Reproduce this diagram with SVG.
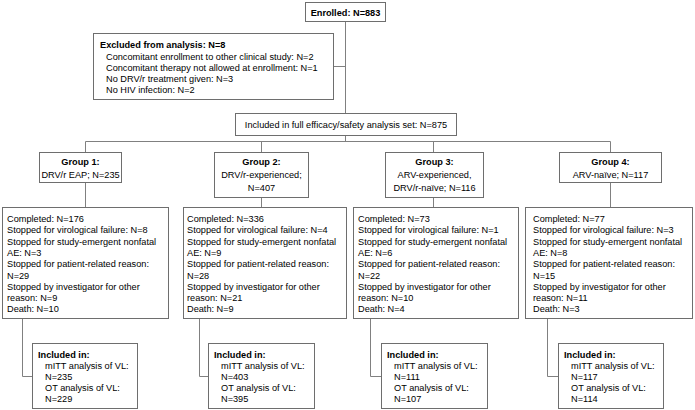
<svg xmlns="http://www.w3.org/2000/svg" width="695" height="410" viewBox="0 0 695 410">
<style>
text{font-family:"Liberation Sans",Arial,sans-serif;font-size:9.2px;fill:#000}
.b{font-weight:bold}
.c{text-anchor:middle}
rect{fill:#fff;stroke:#6e6e6e;stroke-width:1}
.ln{fill:none;stroke:#808080;stroke-width:1}
</style>
<rect x="0" y="0" width="695" height="410" style="fill:#fff;stroke:none"/>
<g id="connectors">
<path class="ln" d="M345.5 21V113"/>
<path class="ln" d="M333.5 66.5H345.5"/>
<path class="ln" d="M345.5 135V141.5"/>
<path class="ln" d="M85.5 152V141.5H610.5V152"/>
<path class="ln" d="M261.5 141.5V152"/>
<path class="ln" d="M433.5 141.5V152"/>
<path class="ln" d="M85.5 182V207"/>
<path class="ln" d="M261.5 197V207"/>
<path class="ln" d="M433.5 197V207"/>
<path class="ln" d="M610.5 182V207"/>
<path class="ln" d="M22.5 318V376.5H32.5"/>
<path class="ln" d="M199.5 318V376.5H208.5"/>
<path class="ln" d="M370.5 318V376.5H381.5"/>
<path class="ln" d="M547.5 318V376.5H558.5"/>
</g>
<g id="enrolled">
<rect x="305.5" y="2.5" width="80" height="19"/>
<text class="b c" x="345.5" y="15.5">Enrolled: N=883</text>
</g>
<g id="excluded">
<rect x="93.5" y="33.5" width="240" height="66"/>
<text class="b" x="100" y="48">Excluded from analysis: N=8</text>
<text x="106" y="60">Concomitant enrollment to other clinical study: N=2</text>
<text x="106" y="71">Concomitant therapy not allowed at enrollment: N=1</text>
<text x="106" y="82">No DRV/r treatment given: N=3</text>
<text x="106" y="93">No HIV infection: N=2</text>
</g>
<g id="included">
<rect x="235.5" y="113.5" width="221" height="22"/>
<text class="c" x="346" y="127.5">Included in full efficacy/safety analysis set: N=875</text>
</g>
<g id="group1">
<rect x="39.5" y="152.5" width="82" height="30"/>
<text class="b c" x="80.5" y="165">Group 1:</text>
<text class="c" x="80.5" y="178">DRV/r EAP; N=235</text>
</g>
<g id="group2">
<rect x="214.5" y="152.5" width="94" height="45"/>
<text class="b c" x="261.5" y="165">Group 2:</text>
<text class="c" x="261.5" y="178">DRV/r-experienced;</text>
<text class="c" x="261.5" y="191">N=407</text>
</g>
<g id="group3">
<rect x="385.5" y="152.5" width="98" height="45"/>
<text class="b c" x="434.5" y="165">Group 3:</text>
<text class="c" x="434.5" y="178">ARV-experienced,</text>
<text class="c" x="434.5" y="191">DRV/r-naïve; N=116</text>
</g>
<g id="group4">
<rect x="559.5" y="152.5" width="102" height="30"/>
<text class="b c" x="610.5" y="165">Group 4:</text>
<text class="c" x="610.5" y="178">ARV-naïve; N=117</text>
</g>
<g id="outcome1">
<rect x="2.5" y="207.5" width="166" height="111"/>
<text x="7" y="222">Completed: N=176</text>
<text x="7" y="233.3">Stopped for virological failure: N=8</text>
<text x="7" y="244.6">Stopped for study-emergent nonfatal</text>
<text x="7" y="255.9">AE: N=3</text>
<text x="7" y="267.2">Stopped for patient-related reason:</text>
<text x="7" y="278.5">N=29</text>
<text x="7" y="289.8">Stopped by investigator for other</text>
<text x="7" y="301.1">reason: N=9</text>
<text x="7" y="312.4">Death: N=10</text>
</g>
<g id="outcome2">
<rect x="183.5" y="207.5" width="163" height="111"/>
<text x="187" y="222">Completed: N=336</text>
<text x="187" y="233.3">Stopped for virological failure: N=4</text>
<text x="187" y="244.6">Stopped for study-emergent nonfatal</text>
<text x="187" y="255.9">AE: N=9</text>
<text x="187" y="267.2">Stopped for patient-related reason:</text>
<text x="187" y="278.5">N=28</text>
<text x="187" y="289.8">Stopped by investigator for other</text>
<text x="187" y="301.1">reason: N=21</text>
<text x="187" y="312.4">Death: N=9</text>
</g>
<g id="outcome3">
<rect x="353.5" y="207.5" width="165" height="111"/>
<text x="358" y="222">Completed: N=73</text>
<text x="358" y="233.3">Stopped for virological failure: N=1</text>
<text x="358" y="244.6">Stopped for study-emergent nonfatal</text>
<text x="358" y="255.9">AE: N=6</text>
<text x="358" y="267.2">Stopped for patient-related reason:</text>
<text x="358" y="278.5">N=22</text>
<text x="358" y="289.8">Stopped by investigator for other</text>
<text x="358" y="301.1">reason: N=10</text>
<text x="358" y="312.4">Death: N=4</text>
</g>
<g id="outcome4">
<rect x="525.5" y="207.5" width="167" height="111"/>
<text x="533" y="222">Completed: N=77</text>
<text x="533" y="233.3">Stopped for virological failure: N=3</text>
<text x="533" y="244.6">Stopped for study-emergent nonfatal</text>
<text x="533" y="255.9">AE: N=8</text>
<text x="533" y="267.2">Stopped for patient-related reason:</text>
<text x="533" y="278.5">N=15</text>
<text x="533" y="289.8">Stopped by investigator for other</text>
<text x="533" y="301.1">reason: N=11</text>
<text x="533" y="312.4">Death: N=3</text>
</g>
<g id="analysis1">
<rect x="32.5" y="343.5" width="105" height="65"/>
<text class="b" x="38" y="357.5">Included in:</text>
<text x="45" y="368.5">mITT analysis of VL:</text>
<text x="45" y="379.5">N=235</text>
<text x="45" y="390.5">OT analysis of VL:</text>
<text x="45" y="401.5">N=229</text>
</g>
<g id="analysis2">
<rect x="208.5" y="343.5" width="106" height="65"/>
<text class="b" x="214" y="357.5">Included in:</text>
<text x="221" y="368.5">mITT analysis of VL:</text>
<text x="221" y="379.5">N=403</text>
<text x="221" y="390.5">OT analysis of VL:</text>
<text x="221" y="401.5">N=395</text>
</g>
<g id="analysis3">
<rect x="381.5" y="343.5" width="106" height="65"/>
<text class="b" x="387" y="357.5">Included in:</text>
<text x="394" y="368.5">mITT analysis of VL:</text>
<text x="394" y="379.5">N=111</text>
<text x="394" y="390.5">OT analysis of VL:</text>
<text x="394" y="401.5">N=107</text>
</g>
<g id="analysis4">
<rect x="558.5" y="343.5" width="105" height="65"/>
<text class="b" x="564" y="357.5">Included in:</text>
<text x="571" y="368.5">mITT analysis of VL:</text>
<text x="571" y="379.5">N=117</text>
<text x="571" y="390.5">OT analysis of VL:</text>
<text x="571" y="401.5">N=114</text>
</g>
</svg>
